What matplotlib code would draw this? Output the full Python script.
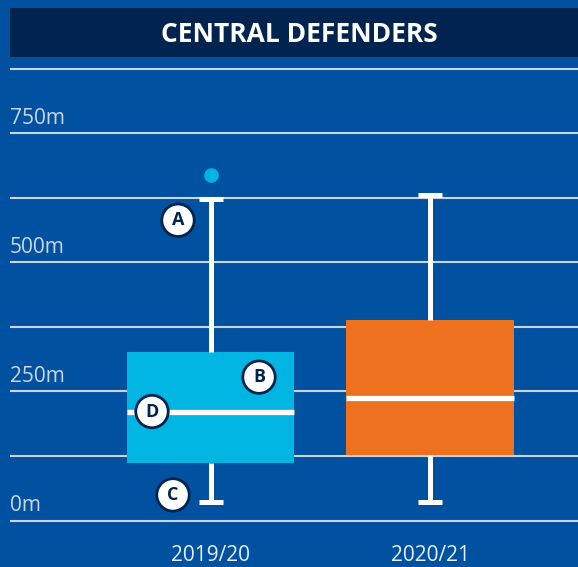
import matplotlib
matplotlib.use("Agg")
import matplotlib.pyplot as plt
import matplotlib.transforms as mtransforms
from matplotlib.patches import Rectangle

# ---- data ----
seasons = ["2019/20", "2020/21"]
whisker_low = [36, 36]
q1 = [112, 126]
median = [211, 238]
q3 = [326, 388]
whisker_high = [622, 631]
outliers = [[669], []]
box_colors = ["#00b5e2", "#ee7120"]
grid_values = [0, 125, 250, 375, 500, 625, 750, 875]
label_values = [0, 250, 500, 750]
label_texts = ["0m", "250m", "500m", "750m"]
title = "CENTRAL DEFENDERS"

BG = "#0052a1"
NAVY = "#00234f"
GRID = "#cdd3dc"

plt.rcParams['font.family'] = ['Open Sans', 'DejaVu Sans']

W, H = 578, 567
fig = plt.figure(figsize=(W / 100, H / 100), dpi=100, facecolor=BG)

# axes occupies pixel x 10..578, y 60..540 (from top)
ax_top, ax_bot = 60, 540
ax = fig.add_axes([10 / W, 1 - ax_bot / H, (W - 10) / W, (ax_bot - ax_top) / H])
ax.set_facecolor(BG)
px_per_m = 0.5165
zero_px = 520.5
ax.set_ylim(-(ax_bot - zero_px) / px_per_m, (zero_px - ax_top) / px_per_m)
unit_px = 219.5
left_val = 1 - (210.5 - 10) / unit_px

for g in grid_values:
    ax.axhline(g, color=GRID, lw=1.5, zorder=1)

stats = []
for i in range(len(seasons)):
    stats.append(dict(med=median[i], q1=q1[i], q3=q3[i],
                      whislo=whisker_low[i], whishi=whisker_high[i],
                      fliers=outliers[i], label=seasons[i]))

positions = [1, 2]
bp = ax.bxp(stats, positions=positions, widths=167.5 / unit_px,
            patch_artist=True, showfliers=True,
            capwidths=24 / unit_px,
            boxprops=dict(linewidth=0),
            whiskerprops=dict(color="white", linewidth=3.6, solid_capstyle="butt"),
            capprops=dict(color="white", linewidth=3.6, solid_capstyle="butt"),
            medianprops=dict(color="white", linewidth=3.8, solid_capstyle="butt"),
            flierprops=dict(marker="o", markersize=10.5, markerfacecolor="#00b5e2",
                            markeredgecolor="none"),
            zorder=3)
for patch, c in zip(bp['boxes'], box_colors):
    patch.set_facecolor(c)
    patch.set_edgecolor(c)

ax.set_xlim(left_val, left_val + (W - 10) / unit_px)
for s in ax.spines.values():
    s.set_visible(False)
ax.set_xticks([])
ax.set_yticks([])

# y labels above gridlines
trans = mtransforms.blended_transform_factory(ax.transAxes, ax.transData)
for v, t in zip(label_values, label_texts):
    ax.annotate(t, xy=(0, v), xycoords=trans, xytext=(0, 6.5),
                textcoords="offset points", ha="left", va="baseline",
                fontsize=15, color="#cdd6e4", zorder=4)

# x labels
for p, s in zip(positions, seasons):
    ax.annotate(s, xy=(p, 0), xycoords="data", xytext=(0, -25),
                textcoords="offset points", ha="center", va="center",
                fontsize=15, color="#e8eef6", annotation_clip=False)

# annotation badges A-D (offsets relative to box stats of first box)
def badge(letter, x, y, dx_px, dy_px):
    ax.annotate(letter, xy=(x, y), xytext=(dx_px * 0.72, -dy_px * 0.72),
                textcoords="offset points", ha="center", va="center",
                fontsize=13, fontweight="bold", color=NAVY, zorder=6,
                bbox=dict(boxstyle="circle,pad=0.4", fc="white", ec=NAVY, lw=2))

badge("A", positions[0], whisker_high[0], -32.5, 21)
badge("B", positions[0], q3[0], 48.5, 25)
badge("C", positions[0], whisker_low[0], -37.5, -7)
badge("D", positions[0], median[0], -58.5, 0)

# title bar
fig.patches.append(Rectangle((10 / W, 1 - 57 / H), (W - 10) / W, 49 / H,
                             transform=fig.transFigure, facecolor=NAVY,
                             edgecolor="none", zorder=0))
fig.text(299.5 / W, 1 - 34 / H, title, ha="center", va="center",
         fontsize=19, fontweight="bold", color="white")

fig.savefig("out.png", dpi=100, facecolor=BG)
